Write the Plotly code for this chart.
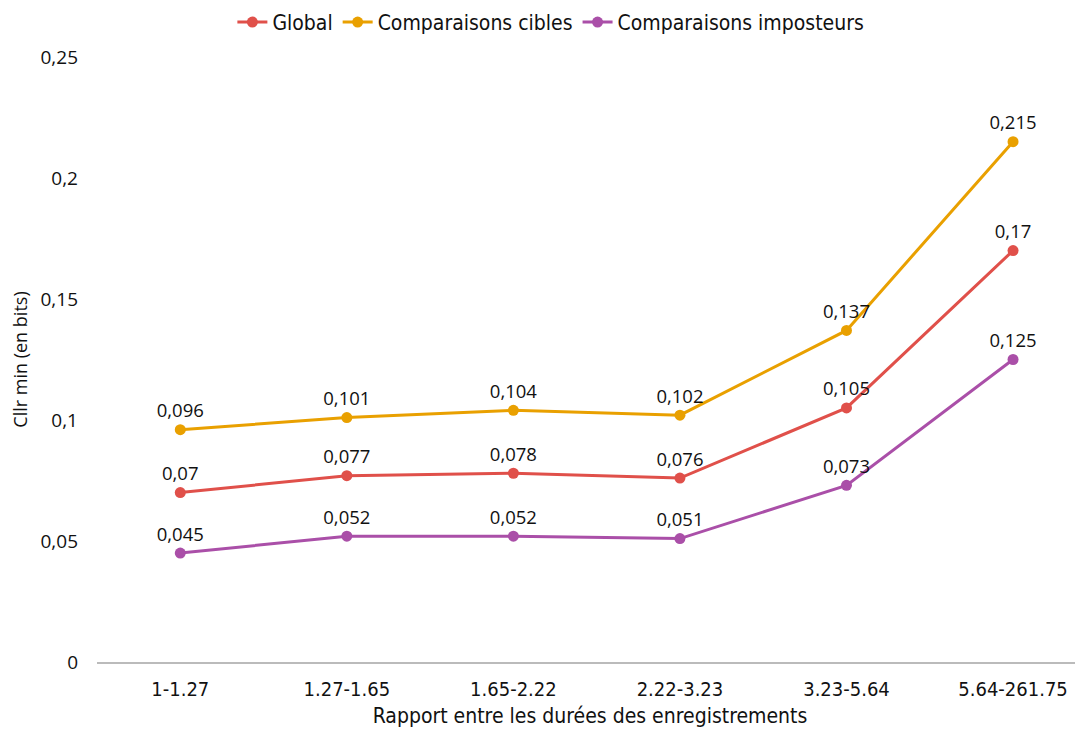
import plotly.graph_objects as go

categories = ["1-1.27", "1.27-1.65", "1.65-2.22", "2.22-3.23", "3.23-5.64", "5.64-261.75"]
global_vals = [0.070, 0.077, 0.078, 0.076, 0.105, 0.170]
cibles_vals = [0.096, 0.101, 0.104, 0.102, 0.137, 0.215]
imposteurs_vals = [0.045, 0.052, 0.052, 0.051, 0.073, 0.125]
y_ticks = [0, 0.05, 0.1, 0.15, 0.2, 0.25]
y_tick_labels = ["0", "0,05", "0,1", "0,15", "0,2", "0,25"]

series = [
    ("Global", global_vals, "#E0504A"),
    ("Comparaisons cibles", cibles_vals, "#E9A000"),
    ("Comparaisons imposteurs", imposteurs_vals, "#AA4FA8"),
]

num_font = "Open Sans, Noto Sans, sans-serif"
cond_font = "DejaVu Sans Condensed, Roboto, sans-serif"

def fmt(v):
    return ("%g" % v).replace(".", ",")

fig = go.Figure()
for name, vals, color in series:
    fig.add_trace(go.Scatter(
        x=list(range(len(categories))), y=vals, name=name,
        mode="lines+markers+text",
        line=dict(color=color, width=3),
        marker=dict(color=color, size=11),
        text=[fmt(v) for v in vals],
        textposition="top center",
        textfont=dict(family=num_font, size=18.5, color="#111111"),
        cliponaxis=False,
    ))

fig.update_layout(
    width=1075, height=723,
    paper_bgcolor="white", plot_bgcolor="white",
    margin=dict(l=89, r=0, t=49, b=69, autoexpand=False),
    showlegend=True,
    legend=dict(orientation="h", xref="container", x=0.505, xanchor="center",
                yref="container", y=0.98, yanchor="middle",
                font=dict(family=cond_font, size=21, color="#111111"),
                itemwidth=30, tracegroupgap=0),
    xaxis=dict(
        tickmode="array", tickvals=list(range(len(categories))), ticktext=categories,
        range=[-0.5, 5.42], showgrid=False, zeroline=False, automargin=False,
        showline=True, linecolor="#BBBBBB", linewidth=1.5,
        ticks="", ticklabelstandoff=8,
        tickfont=dict(family=cond_font, size=20, color="#111111"),
        title=dict(text="Rapport entre les durées des enregistrements",
                   font=dict(family=cond_font, size=21, color="#111111"), standoff=9),
    ),
    yaxis=dict(
        tickmode="array", tickvals=y_ticks, ticktext=y_tick_labels,
        range=[0, 0.25], showgrid=False, zeroline=False, showline=False,
        automargin=False, ticks="", ticklabelstandoff=18,
        tickfont=dict(family=num_font, size=19, color="#111111"),
        title=dict(text="Cllr min (en bits)",
                   font=dict(family=num_font, size=18, color="#111111"), standoff=10),
    ),
)

fig.write_html("out.html")
